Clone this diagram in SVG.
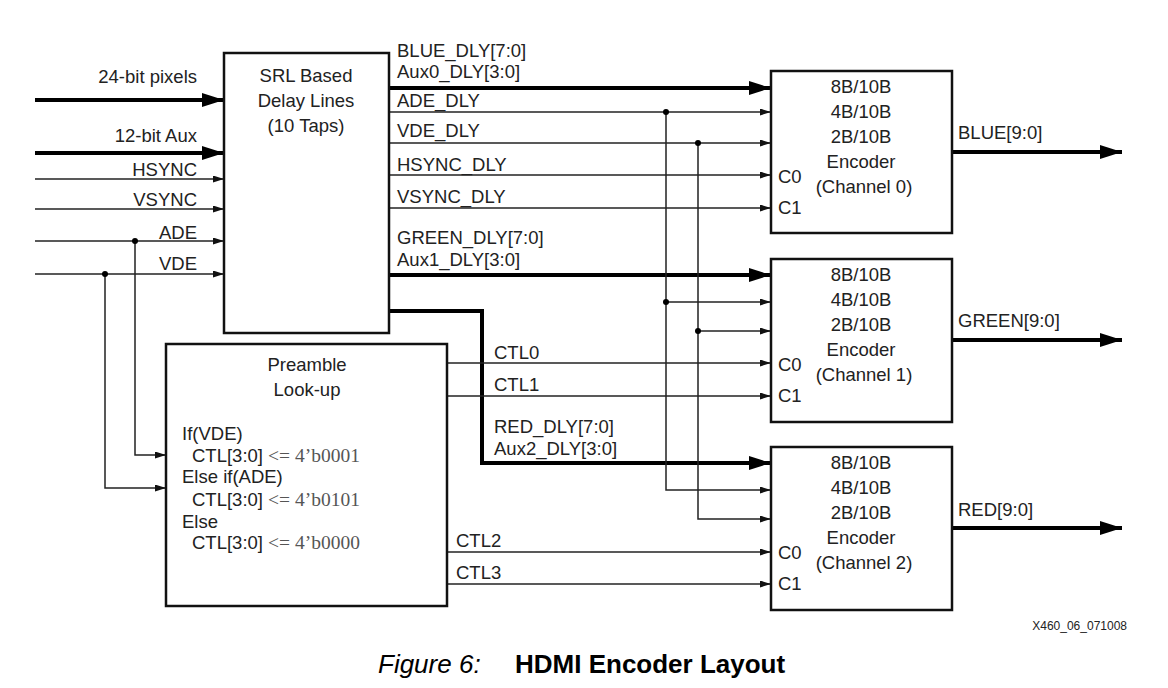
<svg xmlns="http://www.w3.org/2000/svg" width="1168" height="688" viewBox="0 0 1168 688">
<defs>
<style>
.box{fill:#fff;stroke:#111;stroke-width:2.5}
.thin{fill:none;stroke:#222;stroke-width:1.5}
.thick{fill:none;stroke:#000;stroke-width:4}
.ta{marker-end:url(#ah)}
.tk{marker-end:url(#ahk)}
text{font-family:"Liberation Sans",Arial,sans-serif;font-size:18.5px;fill:#222}
.c{text-anchor:middle}
.r{text-anchor:end}
.ser{font-family:"Liberation Serif","Times New Roman",serif;font-size:19.5px;fill:#555}
.dot{fill:#000}
</style>
<marker id="ah" markerUnits="userSpaceOnUse" markerWidth="12" markerHeight="8" refX="11" refY="3.5" orient="auto">
<path d="M0,0 L11,3.5 L0,7 z" fill="#111"/>
</marker>
<marker id="ahk" markerUnits="userSpaceOnUse" markerWidth="23" markerHeight="15" refX="22" refY="7" orient="auto">
<path d="M0,0 L22,7 L0,14 z" fill="#000"/>
</marker>
</defs>
<rect width="1168" height="688" fill="#fff"/>

<g id="connectors">
<path class="thick tk" d="M35,100 H224"/>
<path class="thick tk" d="M35,153 H224"/>
<path class="thin ta" d="M35,179 H224"/>
<path class="thin ta" d="M35,209 H224"/>
<path class="thin ta" d="M35,241 H224"/>
<path class="thin ta" d="M35,274 H224"/>
<path class="thin ta" d="M135,241 V455 H166"/>
<path class="thin ta" d="M105,274 V488 H166"/>

<path class="thick tk" d="M389,88 H771"/>
<path class="thin ta" d="M389,112 H771"/>
<path class="thin ta" d="M389,143 H771"/>
<path class="thin ta" d="M389,175 H771"/>
<path class="thin ta" d="M389,208 H771"/>
<path class="thick tk" d="M389,275 H771"/>
<path class="thick tk" d="M389,311 H482 V463 H771"/>

<path class="thin ta" d="M666,112 V490 H771"/>
<path class="thin ta" d="M666,302 H771"/>
<path class="thin ta" d="M698,143 V519 H771"/>
<path class="thin ta" d="M698,331 H771"/>

<path class="thin ta" d="M447,363 H771"/>
<path class="thin ta" d="M447,396 H771"/>
<path class="thin ta" d="M447,552 H771"/>
<path class="thin ta" d="M447,584 H771"/>

<path class="thick tk" d="M952,152 H1122"/>
<path class="thick tk" d="M952,340 H1122"/>
<path class="thick tk" d="M952,528 H1122"/>

<circle class="dot" cx="135" cy="241" r="3"/>
<circle class="dot" cx="105" cy="274" r="3"/>
<circle class="dot" cx="666" cy="112" r="3"/>
<circle class="dot" cx="666" cy="302" r="3"/>
<circle class="dot" cx="698" cy="143" r="3"/>
<circle class="dot" cx="698" cy="331" r="3"/>

<text class="r" x="197" y="83">24-bit pixels</text>
<text class="r" x="197" y="142">12-bit Aux</text>
<text class="r" x="197" y="176">HSYNC</text>
<text class="r" x="197" y="206">VSYNC</text>
<text class="r" x="197" y="239">ADE</text>
<text class="r" x="197" y="270">VDE</text>

<text x="397" y="57">BLUE_DLY[7:0]</text>
<text x="397" y="78">Aux0_DLY[3:0]</text>
<text x="397" y="107">ADE_DLY</text>
<text x="397" y="137">VDE_DLY</text>
<text x="397" y="171">HSYNC_DLY</text>
<text x="397" y="203">VSYNC_DLY</text>
<text x="397" y="244">GREEN_DLY[7:0]</text>
<text x="397" y="266">Aux1_DLY[3:0]</text>

<text x="494" y="359">CTL0</text>
<text x="494" y="391">CTL1</text>
<text x="494" y="433">RED_DLY[7:0]</text>
<text x="494" y="455">Aux2_DLY[3:0]</text>
<text x="456" y="547">CTL2</text>
<text x="456" y="579">CTL3</text>

<text x="958" y="139">BLUE[9:0]</text>
<text x="958" y="327">GREEN[9:0]</text>
<text x="958" y="516">RED[9:0]</text>
</g>

<g id="srl">
<rect class="box" x="224" y="53" width="165" height="280"/>
<text class="c" x="306" y="82">SRL Based</text>
<text class="c" x="306" y="107">Delay Lines</text>
<text class="c" x="306" y="132">(10 Taps)</text>
</g>

<g id="preamble">
<rect class="box" x="166" y="344" width="281" height="262"/>
<text class="c" x="307" y="371">Preamble</text>
<text class="c" x="307" y="396">Look-up</text>
<text x="182" y="440">If(VDE)</text>
<text x="192" y="462">CTL[3:0] <tspan class="ser">&lt;= 4’b0001</tspan></text>
<text x="182" y="483">Else if(ADE)</text>
<text x="192" y="506">CTL[3:0] <tspan class="ser">&lt;= 4’b0101</tspan></text>
<text x="182" y="528">Else</text>
<text x="192" y="549">CTL[3:0] <tspan class="ser">&lt;= 4’b0000</tspan></text>
</g>

<g id="enc0">
<rect class="box" x="771" y="71" width="181" height="162"/>
<text class="c" x="861" y="93">8B/10B</text>
<text class="c" x="861" y="118">4B/10B</text>
<text class="c" x="861" y="143">2B/10B</text>
<text class="c" x="861" y="168">Encoder</text>
<text class="c" x="864" y="193">(Channel 0)</text>
<text x="778" y="183">C0</text>
<text x="778" y="214">C1</text>
</g>

<g id="enc1">
<rect class="box" x="771" y="259" width="181" height="163"/>
<text class="c" x="861" y="281">8B/10B</text>
<text class="c" x="861" y="306">4B/10B</text>
<text class="c" x="861" y="331">2B/10B</text>
<text class="c" x="861" y="356">Encoder</text>
<text class="c" x="864" y="381">(Channel 1)</text>
<text x="778" y="371">C0</text>
<text x="778" y="402">C1</text>
</g>

<g id="enc2">
<rect class="box" x="771" y="447" width="181" height="163"/>
<text class="c" x="861" y="469">8B/10B</text>
<text class="c" x="861" y="494">4B/10B</text>
<text class="c" x="861" y="519">2B/10B</text>
<text class="c" x="861" y="544">Encoder</text>
<text class="c" x="864" y="569">(Channel 2)</text>
<text x="778" y="559">C0</text>
<text x="778" y="590">C1</text>
</g>

<text x="1127" y="630" class="r" style="font-size:12px">X460_06_071008</text>
<text x="378" y="673" style="font-size:26px;font-style:italic;fill:#000">Figure 6:</text>
<text x="515" y="673" style="font-size:26px;font-weight:bold;fill:#000">HDMI Encoder Layout</text>
</svg>
